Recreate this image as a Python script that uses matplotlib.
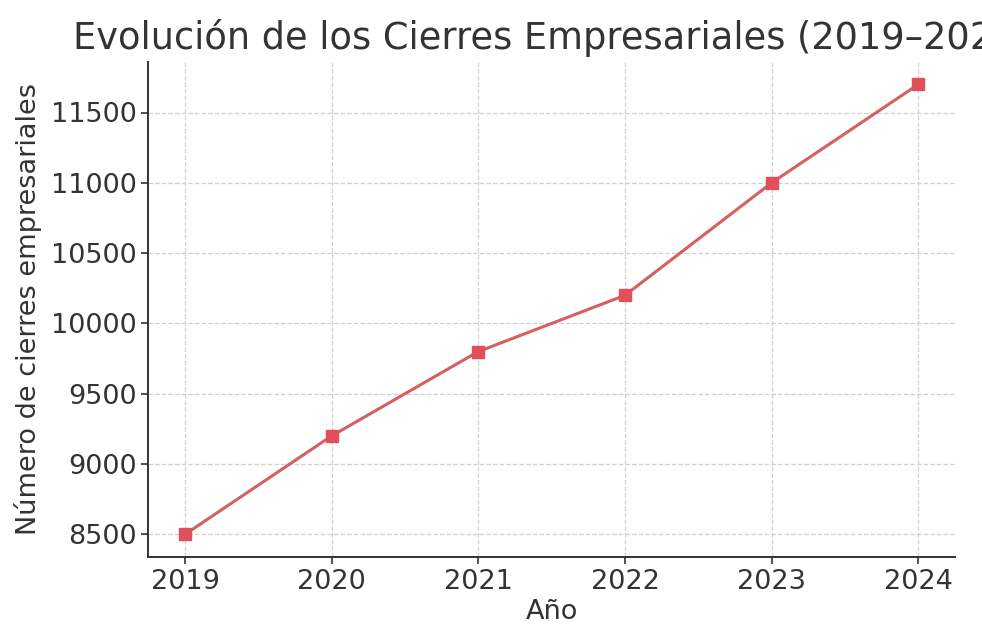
import matplotlib.pyplot as plt

years = [2019, 2020, 2021, 2022, 2023, 2024]
cierres = [8500, 9200, 9800, 10200, 11000, 11700]

titulo = "Evolución de los Cierres Empresariales (2019–2024)"
xlabel = "Año"
ylabel = "Número de cierres empresariales"

plt.rcParams.update({
    "font.family": "DejaVu Sans",
    "text.color": "#333333",
    "axes.labelcolor": "#333333",
    "xtick.color": "#333333",
    "ytick.color": "#333333",
})

fig, ax = plt.subplots(figsize=(9.82, 6.25), dpi=100)
fig.subplots_adjust(left=0.151, right=0.9725, top=0.901, bottom=0.109)

ax.plot(years, cierres, color="#d65f5f", linewidth=2.2,
        marker="s", markersize=8, markerfacecolor="#e0505a",
        markeredgecolor="#e0505a")

# el título es más ancho que la figura y queda recortado a la derecha, como en el original
ax.set_title(titulo, fontsize=26.5, pad=9)
ax.set_xlabel(xlabel, fontsize=19.5, labelpad=3)
ax.set_ylabel(ylabel, fontsize=19.5, labelpad=6)
ax.set_xticks(years)
ax.set_yticks([8500, 9000, 9500, 10000, 10500, 11000, 11500])
ax.tick_params(labelsize=19.5, length=5, width=1.2)

ax.grid(True, linestyle="--", color="#d0d0d0", linewidth=0.9)
for s in ["top", "right"]:
    ax.spines[s].set_visible(False)
for s in ["left", "bottom"]:
    ax.spines[s].set_color("#333333")
    ax.spines[s].set_linewidth(1.4)

plt.savefig("out.png", dpi=100)
